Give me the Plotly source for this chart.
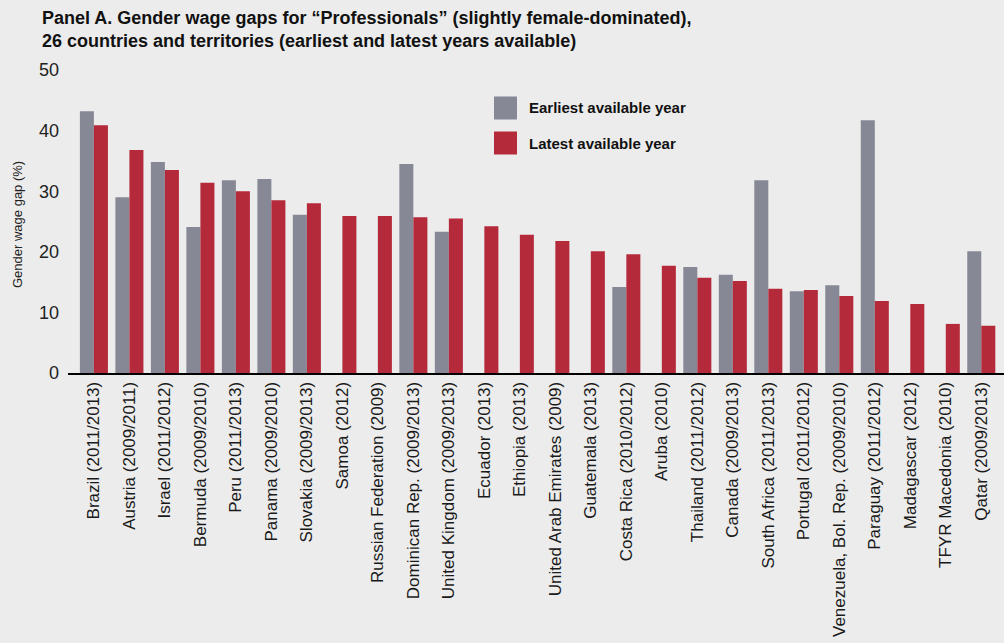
import plotly.graph_objects as go

categories = ["Brazil (2011/2013)", "Austria (2009/2011)", "Israel (2011/2012)", "Bermuda (2009/2010)",
              "Peru (2011/2013)", "Panama (2009/2010)", "Slovakia (2009/2013)", "Samoa (2012)",
              "Russian Federation (2009)", "Dominican Rep. (2009/2013)", "United Kingdom (2009/2013)",
              "Ecuador (2013)", "Ethiopia (2013)", "United Arab Emirates (2009)", "Guatemala (2013)",
              "Costa Rica (2010/2012)", "Aruba (2010)", "Thailand (2011/2012)", "Canada (2009/2013)",
              "South Africa (2011/2013)", "Portugal (2011/2012)", "Venezuela, Bol. Rep. (2009/2010)",
              "Paraguay (2011/2012)", "Madagascar (2012)", "TFYR Macedonia (2010)", "Qatar (2009/2013)"]
earliest = [43.2, 29.0, 34.8, 24.1, 31.8, 32.0, 26.1, None, None, 34.5, 23.3, None, None, None, None,
            14.2, None, 17.5, 16.2, 31.8, 13.5, 14.5, 41.7, None, None, 20.1]
latest = [40.9, 36.8, 33.5, 31.4, 30.0, 28.5, 28.0, 25.9, 25.9, 25.7, 25.5, 24.2, 22.8, 21.8, 20.1,
          19.6, 17.7, 15.7, 15.2, 13.9, 13.7, 12.7, 11.9, 11.4, 8.1, 7.8]
y_ticks = [0, 10, 20, 30, 40, 50]

GRAY = "#878896"
RED = "#b52a3b"
BG = "#ececec"
W, H = 1004, 643
L, R, T, B = 68, 0, 70, 270
pw, ph = W - L - R, H - T - B

def px(x):
    return (x - L) / pw

def py(y):
    return 1 - (y - T) / ph

fig = go.Figure()
fig.add_trace(go.Bar(x=categories, y=earliest, name="Earliest available year", marker_color=GRAY,
                     marker_line_width=0))
fig.add_trace(go.Bar(x=categories, y=latest, name="Latest available year", marker_color=RED,
                     marker_line_width=0))

fig.update_layout(
    width=W, height=H,
    margin=dict(l=L, r=R, t=T, b=B),
    paper_bgcolor=BG, plot_bgcolor=BG,
    barmode="group", bargap=0.21, bargroupgap=0,
    showlegend=False,
    font=dict(family="Liberation Sans, Arial, sans-serif", color="#1a1a1a"),
    xaxis=dict(range=[-0.73, 25.64], tickangle=-90, tickfont=dict(size=17, color="#1a1a1a"),
               showline=True, linecolor="#000", linewidth=2, ticks="", showgrid=False,
               zeroline=False),
    yaxis=dict(range=[0, 50], tickvals=y_ticks, tickfont=dict(size=18, color="#222"),
               showgrid=False, zeroline=False, showline=False, ticks="", ticklabelstandoff=8),
)

fig.add_annotation(xref="paper", yref="paper", x=px(40), y=py(6), xanchor="left", yanchor="top",
                   align="left", showarrow=False,
                   text="<b>Panel A. Gender wage gaps for “Professionals” (slightly female-dominated),<br>"
                        "26 countries and territories (earliest and latest years available)</b>",
                   font=dict(family="Liberation Sans, Arial", size=18, color="#111"))

fig.add_annotation(xref="paper", yref="paper", x=px(17), y=py(225), xanchor="center", yanchor="middle",
                   textangle=-90, showarrow=False, text="Gender wage gap (%)",
                   font=dict(family="Liberation Sans, Arial", size=13, color="#222"))

for i, (name, col) in enumerate([("Earliest available year", GRAY), ("Latest available year", RED)]):
    yc = 108 + i * 35
    fig.add_shape(type="rect", xref="paper", yref="paper", x0=px(494), x1=px(517),
                  y0=py(yc - 11.5), y1=py(yc + 11.5), fillcolor=col, line_width=0)
    fig.add_annotation(xref="paper", yref="paper", x=px(527), y=py(yc), xanchor="left", yanchor="middle",
                       showarrow=False, text="<b>" + name + "</b>",
                       font=dict(family="Liberation Sans, Arial", size=15, color="#111"))

fig.write_html("out.html", config={"displayModeBar": False})

# remove the default page margin so the figure sits at the top-left corner of the window
with open("out.html", encoding="utf-8") as f:
    html = f.read()
html = html.replace("<head>", "<head><style>html,body{margin:0;padding:0;overflow:hidden;background:#ececec;}</style>", 1)
with open("out.html", "w", encoding="utf-8") as f:
    f.write(html)
